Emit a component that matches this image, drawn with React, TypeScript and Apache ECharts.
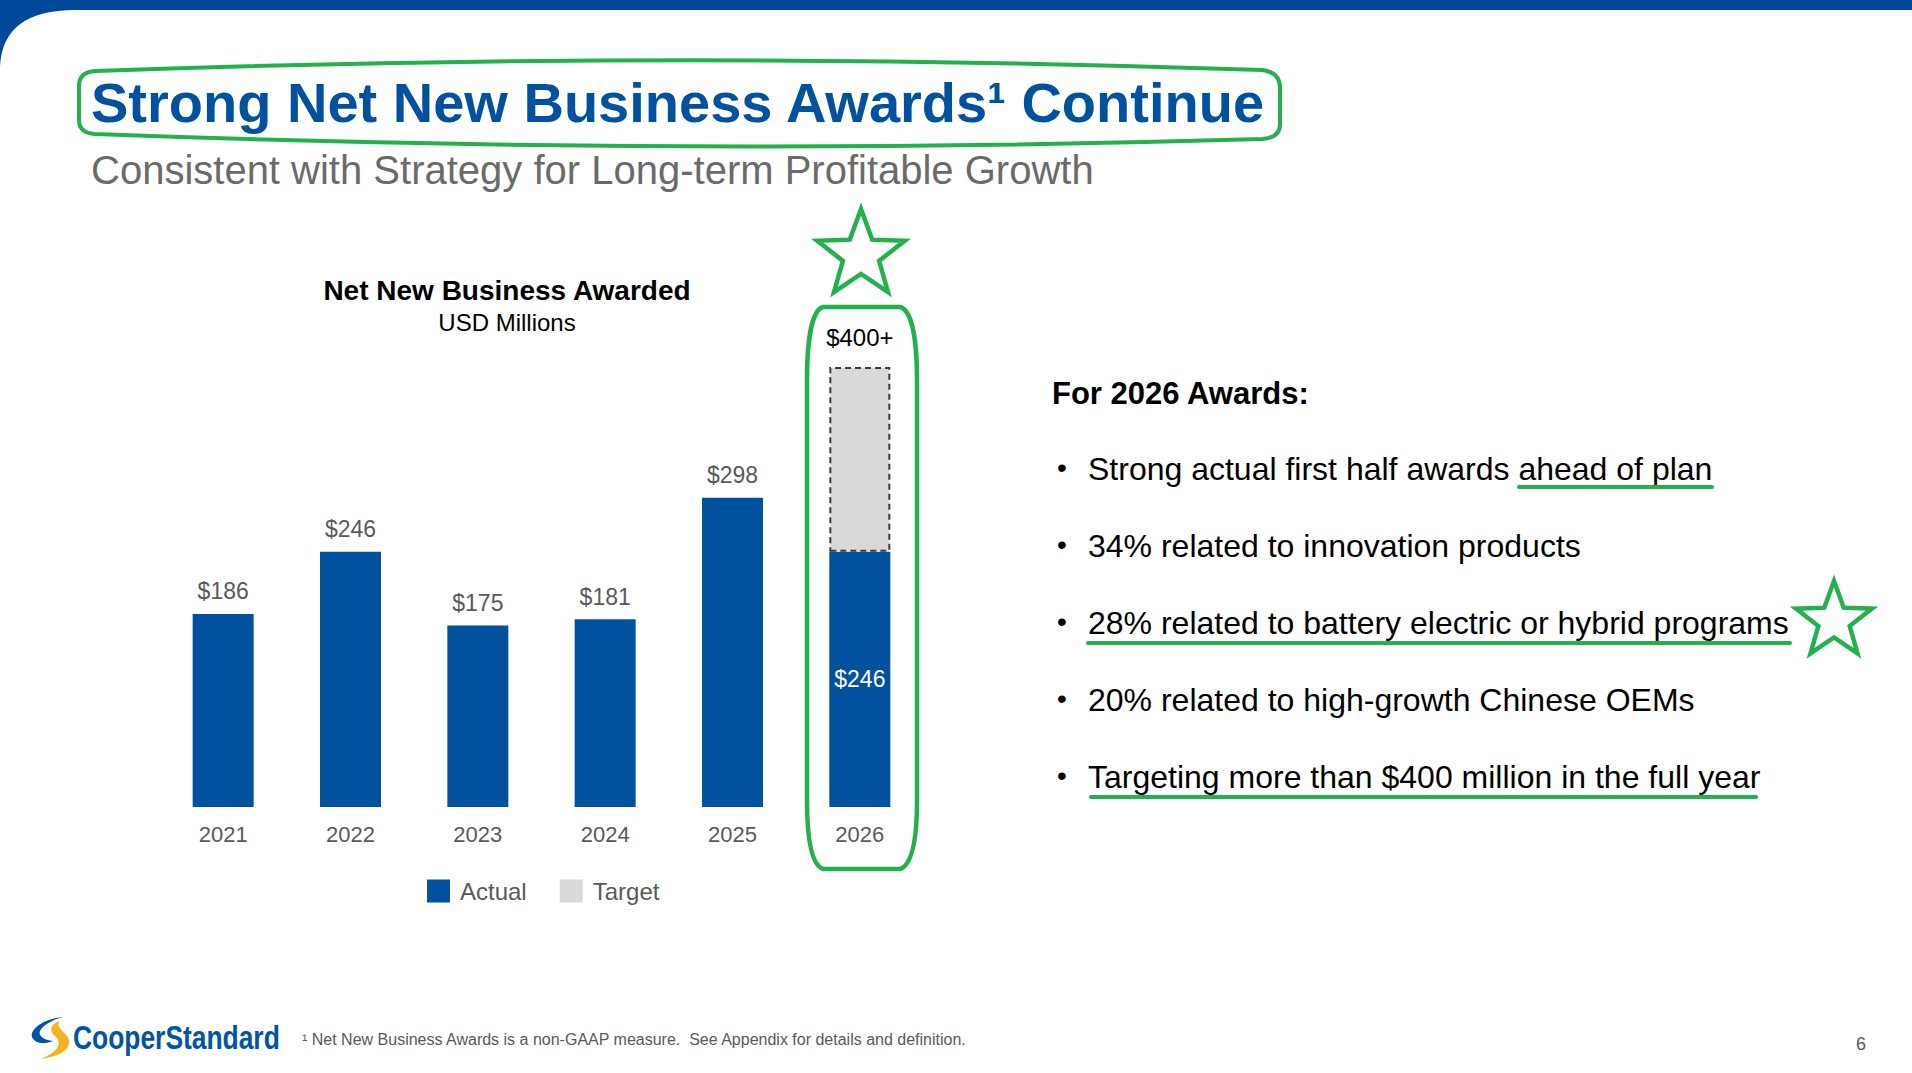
import React, { useEffect, useRef } from "react";
import * as echarts from "echarts";

const categories = ["2021", "2022", "2023", "2024", "2025", "2026"];
const actualValues = [186, 246, 175, 181, 298, 246];
const targetValues = [null, null, null, null, null, 178];
const targetLabel = "$400+";
const seriesNames = ["Actual", "Target"];

const mainTitle = "Strong Net New Business Awards\u00B9 Continue";
const subTitle = "Consistent with Strategy for Long-term Profitable Growth";
const chartTitle = "Net New Business Awarded";
const chartUnit = "USD Millions";
const sideHeading = "For 2026 Awards:";
const bulletLines = [
  "Strong actual first half awards ahead of plan",
  "34% related to innovation products",
  "28% related to battery electric or hybrid programs",
  "20% related to high-growth Chinese OEMs",
  "Targeting more than $400 million in the full year",
];
const footnote =
  "\u00B9 Net New Business Awards is a non-GAAP measure.  See Appendix for details and definition.";
const pageNumber = "6";
const logoText = "CooperStandard";

const FONT = '"Liberation Sans", Arial, Helvetica, sans-serif';
const BLUE = "#00529E";
const GREEN = "#22B14C";

const TITLE_BOX =
  "M79,86 Q79,72 95,71 Q677,50 1262,70 Q1280,72 1280,88 L1280,124 Q1280,138 1262,139 Q677,156 95,134 Q79,133 79,120 Z";
const CAPSULE =
  "M823,307 L900,307 C912,310 917,340 917,380 L917,800 C917,840 912,865 900,869 L823,869 C812,865 807,840 807,800 L807,380 C807,340 812,310 823,307 Z";
const CORNER = "M0,0 L75,0 L75,10 Q3,10 0,66 Z";
const LOGO_BLUE =
  "M63,1017 C43,1019 30,1029 32,1037 C34,1043 44,1045 53,1041 C44,1040 38,1036 40,1031 C43,1025 52,1020 63,1017 Z";
const LOGO_YELLOW =
  "M59,1021 C50,1025 49,1031 55,1036 C62,1042 60,1052 40,1059 C58,1057 71,1050 69,1040 C67,1032 56,1030 59,1021 Z";

echarts.graphic.registerShape("titlebox", echarts.graphic.extendPath(TITLE_BOX, {}));
echarts.graphic.registerShape("capsule", echarts.graphic.extendPath(CAPSULE, {}));
echarts.graphic.registerShape("corner", echarts.graphic.extendPath(CORNER, {}));
echarts.graphic.registerShape("logoblue", echarts.graphic.extendPath(LOGO_BLUE, {}));
echarts.graphic.registerShape("logoyellow", echarts.graphic.extendPath(LOGO_YELLOW, {}));

function starPoints(cx: number, cy: number, R: number, r: number) {
  const pts: number[][] = [];
  for (let i = 0; i < 10; i++) {
    const rad = i % 2 === 0 ? R : r;
    const a = -Math.PI / 2 + (i * Math.PI) / 5;
    pts.push([cx + rad * Math.cos(a), cy + rad * Math.sin(a)]);
  }
  return pts;
}

function txt(
  x: number,
  y: number,
  text: string,
  size: number,
  fill: string,
  opts: any = {}
) {
  return {
    type: "text",
    x,
    y,
    silent: true,
    style: {
      text,
      font: `${opts.weight || "normal"} ${size}px ${FONT}`,
      fill,
      textAlign: opts.align || "left",
      textVerticalAlign: "middle",
    },
  };
}

export default function App() {
  const ref = useRef<HTMLDivElement>(null);

  useEffect(() => {
    if (!ref.current) return;
    const chart = echarts.init(ref.current, null, { renderer: "svg" });

    const lastIdx = actualValues.length - 1;
    const actualData = actualValues.map((v, i) =>
      i === lastIdx
        ? { value: v, label: { position: "inside", color: "#FFFFFF" } }
        : v
    );
    const targetData = targetValues.map((v) =>
      v == null
        ? "-"
        : {
            value: v,
            itemStyle: {
              borderColor: "#3A3A3A",
              borderWidth: 2,
              borderType: [6, 4],
            },
          }
    );

    const bulletY = [469, 546, 623, 700, 777];
    const graphics: any[] = [
      { type: "rect", shape: { x: 0, y: 0, width: 1912, height: 10 }, style: { fill: "#00489A" }, silent: true },
      { type: "corner", x: 0, y: 0, style: { fill: "#00489A" }, silent: true },
      { type: "titlebox", x: 0, y: 0, style: { fill: "none", stroke: GREEN, lineWidth: 4 }, silent: true },
      txt(91, 102, mainTitle, 56, BLUE, { weight: "bold" }),
      txt(91, 170, subTitle, 40, "#6A6A6A"),
      txt(507, 290, chartTitle, 28, "#000000", { weight: "bold", align: "center" }),
      txt(507, 322, chartUnit, 24, "#000000", { align: "center" }),
      { type: "capsule", x: 0, y: 0, style: { fill: "none", stroke: GREEN, lineWidth: 4.5 }, silent: true },
      {
        type: "polygon",
        shape: { points: starPoints(861, 255, 46, 19) },
        style: { fill: "none", stroke: GREEN, lineWidth: 4.5, lineJoin: "miter" },
        silent: true,
      },
      {
        type: "polygon",
        shape: { points: starPoints(1834, 621, 40, 16.5) },
        style: { fill: "none", stroke: GREEN, lineWidth: 4.5, lineJoin: "miter" },
        silent: true,
      },
      txt(1052, 393, sideHeading, 31, "#000000", { weight: "bold" }),
    ];
    bulletLines.forEach((line, i) => {
      graphics.push(txt(1057, bulletY[i] - 2, "\u2022", 28, "#000000"));
      graphics.push(txt(1088, bulletY[i], line, 32, "#000000"));
    });
    const underlines = [
      [1519, 1712, 487],
      [1088, 1790, 643],
      [1091, 1756, 797],
    ];
    underlines.forEach(([x1, x2, y]) => {
      graphics.push({
        type: "line",
        shape: { x1, y1: y, x2, y2: y },
        style: { stroke: GREEN, lineWidth: 4, lineCap: "round" },
        silent: true,
      });
    });
    graphics.push(
      { type: "logoblue", x: 0, y: 0, style: { fill: "#0054A4" }, silent: true },
      { type: "logoyellow", x: 0, y: 0, style: { fill: "#F5B320" }, silent: true },
      {
        type: "text",
        x: 73,
        y: 1037,
        scaleX: 0.8,
        silent: true,
        style: {
          text: logoText,
          font: `bold 33px ${FONT}`,
          fill: "#0054A4",
          textAlign: "left",
          textVerticalAlign: "middle",
        },
      },
      txt(302, 1039, footnote, 16, "#595959"),
      txt(1861, 1044, pageNumber, 18, "#595959", { align: "center" })
    );

    chart.setOption({
      animation: false,
      backgroundColor: "#FFFFFF",
      textStyle: { fontFamily: FONT },
      grid: { left: 159.5, right: 988.5, top: 340, bottom: 266, containLabel: false },
      legend: {
        data: seriesNames,
        left: 427,
        top: 879,
        itemWidth: 23,
        itemHeight: 23,
        itemGap: 33,
        padding: 0,
        icon: "rect",
        textStyle: { fontSize: 24, color: "#595959", fontFamily: FONT, padding: [0, 0, 0, 5] },
      },
      xAxis: {
        type: "category",
        data: categories,
        axisLine: { show: false },
        axisTick: { show: false },
        axisLabel: { fontSize: 22, color: "#595959", margin: 16, fontFamily: FONT },
      },
      yAxis: {
        type: "value",
        min: 0,
        max: 450,
        show: false,
        splitLine: { show: false },
      },
      series: [
        {
          name: seriesNames[0],
          type: "bar",
          stack: "awards",
          barWidth: 61,
          data: actualData,
          itemStyle: { color: BLUE },
          label: {
            show: true,
            position: "top",
            distance: 11,
            fontSize: 23,
            color: "#595959",
            fontFamily: FONT,
            formatter: (p: any) => "$" + p.value,
          },
        },
        {
          name: seriesNames[1],
          type: "bar",
          stack: "awards",
          barWidth: 61,
          data: targetData,
          itemStyle: { color: "#D9D9D9" },
          label: {
            show: true,
            position: "top",
            distance: 17,
            fontSize: 24,
            color: "#000000",
            fontFamily: FONT,
            formatter: () => targetLabel,
          },
        },
      ],
      graphic: { elements: graphics },
    });

    return () => chart.dispose();
  }, []);

  return (
    <div
      ref={ref}
      style={{ position: "fixed", left: 0, top: 0, width: 1912, height: 1073, background: "#fff" }}
    />
  );
}
